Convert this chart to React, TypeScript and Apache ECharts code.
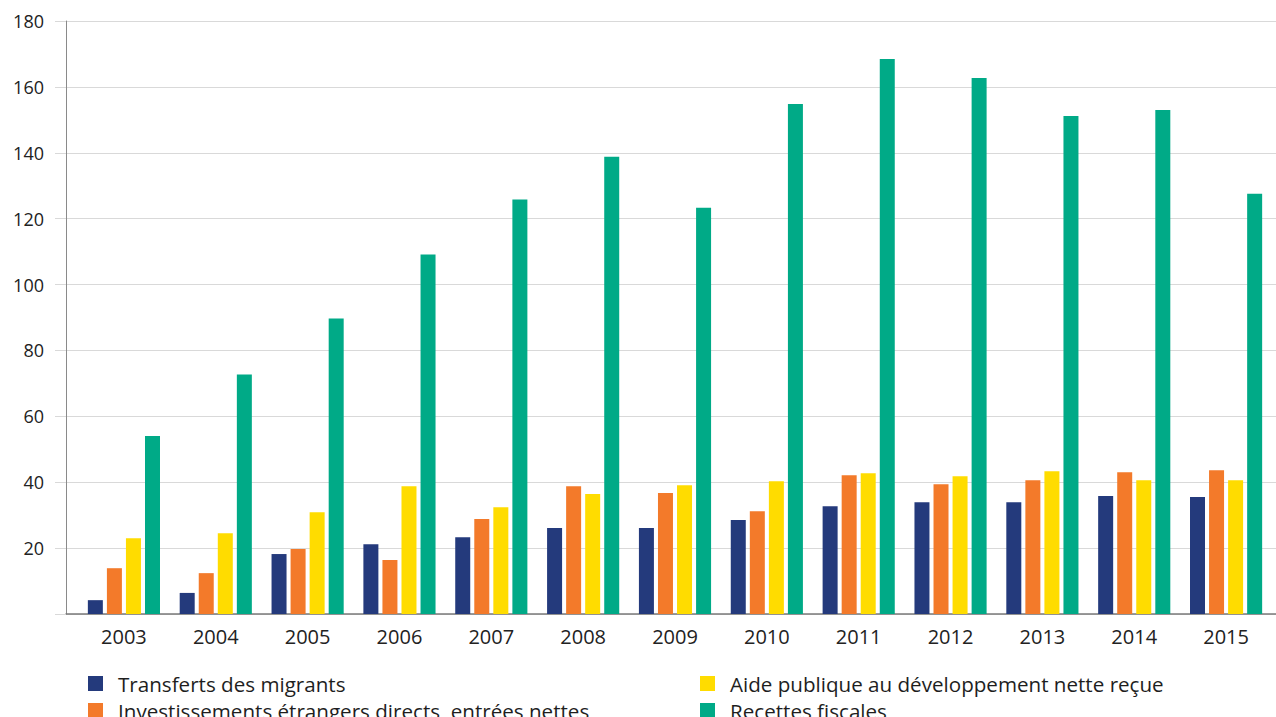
import React, { useEffect, useRef } from "react";
import * as echarts from "echarts";

const years = ["2003", "2004", "2005", "2006", "2007", "2008", "2009", "2010", "2011", "2012", "2013", "2014", "2015"];
const transferts = [4.2, 6.4, 18.2, 21.2, 23.3, 26.1, 26.1, 28.5, 32.7, 33.9, 33.9, 35.8, 35.5];
const investissements = [13.9, 12.4, 19.7, 16.4, 28.8, 38.8, 36.7, 31.2, 42.1, 39.4, 40.6, 43.0, 43.6];
const aide = [23.0, 24.5, 30.9, 38.8, 32.4, 36.4, 39.1, 40.3, 42.7, 41.8, 43.3, 40.6, 40.6];
const recettes = [54, 72.7, 89.7, 109.1, 125.8, 138.8, 123.3, 154.8, 168.5, 162.7, 151.2, 153.0, 127.6];
const seriesNames = [
  "Transferts des migrants",
  "Investissements étrangers directs, entrées nettes",
  "Aide publique au développement nette reçue",
  "Recettes fiscales",
];
const colors = ["#243A7C", "#F37A2A", "#FFDC00", "#00AA87"];

const FONT = "'Open Sans', sans-serif";

export default function App() {
  const ref = useRef<HTMLDivElement>(null);
  useEffect(() => {
    if (!ref.current) return;
    const chart = echarts.init(ref.current, undefined, { renderer: "svg" });
    const values = [transferts, investissements, aide, recettes];
    const legendPos = [
      { left: 88, top: 673 },
      { left: 88, top: 700 },
      { left: 700, top: 673 },
      { left: 700, top: 700 },
    ];
    chart.setOption({
      animation: false,
      backgroundColor: "#ffffff",
      textStyle: { fontFamily: FONT },
      grid: [
        { left: 66, right: 0, top: 21, bottom: 103 },
        { left: 78, right: 4, top: 21, bottom: 103 },
      ],
      xAxis: [
        {
          type: "value",
          gridIndex: 0,
          min: 0,
          max: 1,
          axisLine: { show: true, lineStyle: { color: "#7a7a7a", width: 1.5 } },
          axisTick: { show: false },
          axisLabel: { show: false },
          splitLine: { show: false },
        },
        {
          type: "category",
          gridIndex: 1,
          data: years,
          axisLine: { show: false },
          axisTick: { show: false },
          axisLabel: { fontSize: 20, color: "#222222", margin: 12, fontFamily: FONT },
        },
      ],
      yAxis: [
        {
          type: "value",
          gridIndex: 0,
          min: 0,
          max: 180,
          interval: 20,
          axisLine: { show: true, lineStyle: { color: "#8a8a8a", width: 1 } },
          axisTick: { show: true, length: 11, lineStyle: { color: "#d9d9d9" } },
          splitLine: { show: true, lineStyle: { color: "#d9d9d9", width: 1 } },
          axisLabel: {
            fontSize: 18,
            color: "#222222",
            margin: 22,
            fontFamily: FONT,
            formatter: (v: number) => (v === 0 ? "" : String(v)),
          },
        },
        {
          type: "value",
          gridIndex: 1,
          min: 0,
          max: 180,
          show: false,
          splitLine: { show: false },
        },
      ],
      legend: seriesNames.map((name, i) => ({
        data: [name],
        left: legendPos[i].left,
        top: legendPos[i].top,
        padding: 0,
        itemWidth: 15,
        itemHeight: 15,
        icon: "rect",
        textStyle: { fontSize: 20.6, color: "#1e1e1e", fontFamily: FONT, padding: [0, 0, 0, 10] },
      })),
      series: seriesNames.map((name, i) => ({
        name,
        type: "bar",
        xAxisIndex: 1,
        yAxisIndex: 1,
        data: values[i],
        barWidth: 15,
        barGap: "27%",
        itemStyle: { color: colors[i] },
      })),
    });
    return () => chart.dispose();
  }, []);
  return (
    <div
      ref={ref}
      style={{ position: "fixed", left: 0, top: 0, width: 1276, height: 717 }}
    />
  );
}
